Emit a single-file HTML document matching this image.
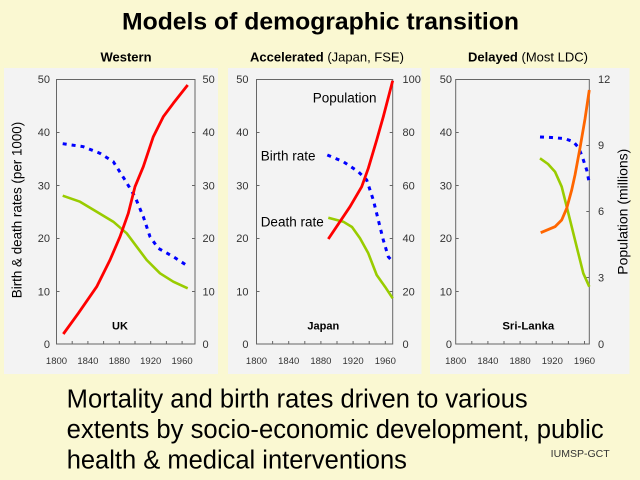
<!DOCTYPE html>
<html><head><meta charset="utf-8"><style>
html,body{margin:0;padding:0;background:#FAF8D2;}
svg{display:block;font-family:"Liberation Sans",Arial,sans-serif;}
</style></head><body>
<svg width="640" height="480" viewBox="0 0 640 480" xmlns="http://www.w3.org/2000/svg">
<rect x="0" y="0" width="640" height="480" fill="#FAF8D2"/>
<text x="320.5" y="29.3" font-size="24" font-weight="bold" text-anchor="middle" textLength="397" lengthAdjust="spacingAndGlyphs" fill="#000">Models of demographic transition</text>

<!-- panel backgrounds -->
<rect x="4" y="68" width="214" height="306" fill="#F3F3F3"/>
<rect x="228" y="68" width="193.5" height="306" fill="#F3F3F3"/>
<rect x="430" y="68" width="199.5" height="306" fill="#F3F3F3"/>

<!-- subtitles -->
<text x="126" y="61.5" font-size="13" font-weight="bold" text-anchor="middle" fill="#000">Western</text>
<text x="250" y="61.5" font-size="13" fill="#000"><tspan font-weight="bold">Accelerated</tspan> (Japan, FSE)</text>
<text x="468" y="61.5" font-size="13" fill="#000"><tspan font-weight="bold">Delayed</tspan> (Most LDC)</text>

<!-- ===== Panel 1 ===== -->
<g stroke="#666" stroke-width="1" fill="none">
<rect x="56.5" y="79.5" width="138.5" height="264.5"/>
<path d="M56.5 132.5h3M56.5 185.5h3M56.5 238.5h3M56.5 291.5h3M195 132.5h-3M195 185.5h-3M195 238.5h-3M195 291.5h-3"/>
<path d="M72.2 344v-3M87.9 344v-3M103.6 344v-3M119.3 344v-3M135 344v-3M150.7 344v-3M166.4 344v-3M182.1 344v-3"/>
</g>
<g font-size="11" fill="#333" text-anchor="end">
<text x="50" y="83">50</text><text x="50" y="136">40</text><text x="50" y="189.5">30</text><text x="50" y="242">20</text><text x="50" y="295.5">10</text><text x="50" y="348">0</text>
</g>
<g font-size="11" fill="#333">
<text x="202.5" y="83">50</text><text x="202.5" y="136">40</text><text x="202.5" y="189.5">30</text><text x="202.5" y="242">20</text><text x="202.5" y="295.5">10</text><text x="202.5" y="348">0</text>
</g>
<g font-size="9.5" fill="#333" text-anchor="middle">
<text x="56.5" y="364">1800</text><text x="87.9" y="364">1840</text><text x="119.3" y="364">1880</text><text x="150.7" y="364">1920</text><text x="182.1" y="364">1960</text>
</g>
<text transform="translate(21.5,210) rotate(-90)" font-size="13.4" text-anchor="middle" fill="#000">Birth &amp; death rates (per 1000)</text>
<text x="120" y="329.3" font-size="11" font-weight="bold" text-anchor="middle" fill="#000">UK</text>
<polyline fill="none" stroke="#99CC00" stroke-width="2.6" stroke-linejoin="round" points="62.7,195.7 80,201.7 96.7,211.7 113.3,221.7 126.7,233.3 136.7,246.7 146.7,260 160,273.3 173.3,281.7 187.7,288.3"/>
<polyline fill="none" stroke="#0000FF" stroke-width="3" stroke-dasharray="4 5" points="62.7,143.7 83.3,146.7 100,153.3 113.3,161.7 125,180 135,196.7 143.3,216.7 150,236.7 158.3,248.3 173.3,256.7 187.7,266"/>
<polyline fill="none" stroke="#FF0000" stroke-width="2.8" stroke-linejoin="round" points="63.3,334 78.3,313.3 96.7,286.7 110,260 120,236.7 128.3,213.3 135,186.7 143.3,166.7 153.3,136.7 163.3,116.7 173.3,103.3 187.7,85"/>

<!-- ===== Panel 2 ===== -->
<g stroke="#666" stroke-width="1" fill="none">
<rect x="256.5" y="79.5" width="136.2" height="264.5"/>
<path d="M256.5 132.5h3M256.5 185.5h3M256.5 238.5h3M256.5 291.5h3M392.7 132.5h-3M392.7 185.5h-3M392.7 238.5h-3M392.7 291.5h-3"/>
<path d="M272.6 344v-3M288.7 344v-3M304.8 344v-3M320.9 344v-3M337 344v-3M353.1 344v-3M369.2 344v-3M385.3 344v-3"/>
</g>
<g font-size="11" fill="#333" text-anchor="end">
<text x="248.5" y="83">50</text><text x="248.5" y="136">40</text><text x="248.5" y="189.5">30</text><text x="248.5" y="242">20</text><text x="248.5" y="295.5">10</text><text x="248.5" y="348">0</text>
</g>
<g font-size="11" fill="#333">
<text x="402.5" y="83">100</text><text x="402.5" y="136">80</text><text x="402.5" y="189.5">60</text><text x="402.5" y="242">40</text><text x="402.5" y="295.5">20</text><text x="402.5" y="348">0</text>
</g>
<g font-size="9.5" fill="#333" text-anchor="middle">
<text x="256.5" y="364">1800</text><text x="288.7" y="364">1840</text><text x="320.9" y="364">1880</text><text x="353.1" y="364">1920</text><text x="385.3" y="364">1960</text>
</g>
<g font-size="13.5" fill="#000">
<text x="312.7" y="102.7">Population</text>
<text x="260.7" y="160.7">Birth rate</text>
<text x="260.7" y="226.7">Death rate</text>
</g>
<text x="323.3" y="329.3" font-size="11" font-weight="bold" text-anchor="middle" fill="#000">Japan</text>
<polyline fill="none" stroke="#99CC00" stroke-width="2.6" stroke-linejoin="round" points="328.3,217.7 343.3,221.7 352,227 360,238.3 368.3,253.3 376.7,275 385,286.7 392.7,298.3"/>
<polyline fill="none" stroke="#0000FF" stroke-width="3" stroke-dasharray="4 5" points="327.3,155 343.3,161.7 358.3,171.7 366.7,180 373.3,200 378.3,220 383.3,240 388.3,256.7 392.7,261.7"/>
<polyline fill="none" stroke="#FF0000" stroke-width="2.8" stroke-linejoin="round" points="328.3,239 350,206.7 361.7,186.7 368.3,168.3 376.7,140 383.3,116.7 392.7,80.7"/>

<!-- ===== Panel 3 ===== -->
<g stroke="#666" stroke-width="1" fill="none">
<rect x="455.7" y="79.5" width="133.6" height="264.5"/>
<path d="M455.7 132.5h3M455.7 185.5h3M455.7 238.5h3M455.7 291.5h3M589.3 145.5h-3M589.3 211.5h-3M589.3 277.5h-3"/>
<path d="M471.8 344v-3M487.9 344v-3M504 344v-3M520.1 344v-3M536.2 344v-3M552.3 344v-3M568.4 344v-3M584.5 344v-3"/>
</g>
<g font-size="11" fill="#333" text-anchor="end">
<text x="452" y="83">50</text><text x="452" y="136">40</text><text x="452" y="189.5">30</text><text x="452" y="242">20</text><text x="452" y="295.5">10</text><text x="452" y="348">0</text>
</g>
<g font-size="11" fill="#333">
<text x="598" y="83">12</text><text x="598" y="149">9</text><text x="598" y="215">6</text><text x="598" y="281.5">3</text><text x="598" y="348">0</text>
</g>
<g font-size="9.5" fill="#333" text-anchor="middle">
<text x="455.7" y="364">1800</text><text x="487.9" y="364">1840</text><text x="520.1" y="364">1880</text><text x="552.3" y="364">1920</text><text x="584.5" y="364">1960</text>
</g>
<text transform="translate(627.5,211.7) rotate(-90)" font-size="14" text-anchor="middle" fill="#000">Population (millions)</text>
<text x="528.3" y="329.3" font-size="11.4" font-weight="bold" text-anchor="middle" fill="#000">Sri-Lanka</text>
<polyline fill="none" stroke="#99CC00" stroke-width="2.6" stroke-linejoin="round" points="540,158.3 548,164 555,171.7 561.7,186.7 566.7,206.7 571.7,226.7 578.3,253.3 583.3,273.3 589.3,286.7"/>
<polyline fill="none" stroke="#0000FF" stroke-width="3" stroke-dasharray="4 5" points="540,137 551.7,137.5 565,138.7 573.3,141.7 578,147 581.7,155 586.7,170 589.3,183"/>
<polyline fill="none" stroke="#FF6600" stroke-width="2.8" stroke-linejoin="round" points="540.7,232.7 555,226.7 561.7,220 566.7,208.3 571.7,190 575,175 580,148 585,119 589.3,90"/>

<!-- bottom text -->
<g font-size="25.5" fill="#000">
<text x="66.7" y="407.3" textLength="461" lengthAdjust="spacingAndGlyphs">Mortality and birth rates driven to various</text>
<text x="66.7" y="438" textLength="537" lengthAdjust="spacingAndGlyphs">extents by socio-economic development, public</text>
<text x="66.7" y="468.7">health &amp; medical interventions</text>
</g>
<text x="550.7" y="457" font-size="10" fill="#333" textLength="59" lengthAdjust="spacingAndGlyphs">IUMSP-GCT</text>
</svg>
</body></html>
